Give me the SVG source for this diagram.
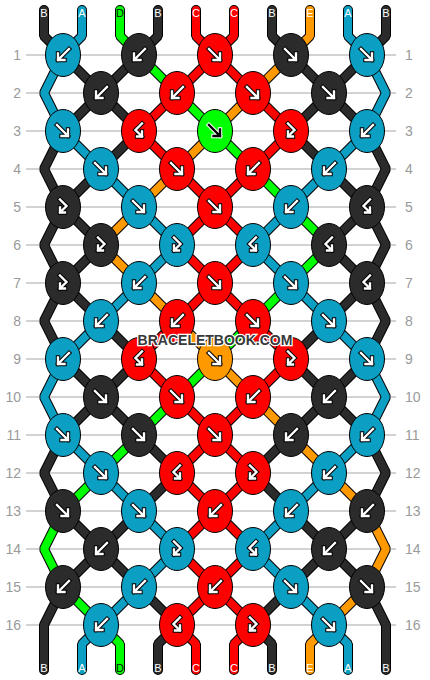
<svg xmlns="http://www.w3.org/2000/svg" xmlns:xlink="http://www.w3.org/1999/xlink" width="430" height="680" viewBox="0 0 430 680">
<style>
.grid line{stroke:#c3c3c3;stroke-width:1.6}
.rl{font-family:"Liberation Sans",Arial,sans-serif;font-size:14px;fill:#9a9a9a}
.rl.l{text-anchor:end}
.so{fill:none;stroke:#000;stroke-width:10;stroke-linejoin:bevel;stroke-linecap:round}
.sc{fill:none;stroke-width:8;stroke-linejoin:bevel;stroke-linecap:round}
.sA{stroke:#0b9fc3}.sB{stroke:#2b2b2b}.sC{stroke:#ff0000}.sD{stroke:#00ff00}.sE{stroke:#ff9900}
.k ellipse{stroke:#000;stroke-width:1}
.A{fill:#0b9fc3}.B{fill:#2b2b2b}.C{fill:#ff0000}.D{fill:#00ff00}.E{fill:#ff9900}
.ao{fill:none;stroke:#000;stroke-width:4.4;stroke-linecap:square;stroke-linejoin:miter}
.ai{fill:none;stroke:#fff;stroke-width:2.4;stroke-linecap:square;stroke-linejoin:miter}
.go{fill:none;stroke:#fff;stroke-width:4.4;stroke-linecap:square;stroke-linejoin:miter}
.gi{fill:none;stroke:#000;stroke-width:2.4;stroke-linecap:square;stroke-linejoin:miter}
.tl{font-family:"Liberation Sans",Arial,sans-serif;font-size:11px;text-anchor:middle;fill:#fff}
.tl .d{fill:#111}
.wm{font-family:"Liberation Sans",Arial,sans-serif;font-weight:bold;font-size:14px;fill:#383838;stroke:#fff;stroke-width:2.5;paint-order:stroke;text-anchor:middle}
</style>
<defs>
<path id="pf" d="M-6,-6 L5,5 M5,-1.5 V5 H-1.5"/>
<path id="pb" d="M6,-6 L-5,5 M-5,-1.5 V5 H1.5"/>
<path id="pfb" d="M-3,-7.5 L3.5,-1 L-3,5.5 M-3,0.5 V5.5 H2"/>
<path id="pbf" d="M3,-7.5 L-3.5,-1 L3,5.5 M3,0.5 V5.5 H-2"/>
<g id="af"><use href="#pf" class="ao"/><use href="#pf" class="ai"/></g>
<g id="ab"><use href="#pb" class="ao"/><use href="#pb" class="ai"/></g>
<g id="afb"><use href="#pfb" class="ao"/><use href="#pfb" class="ai"/></g>
<g id="abf"><use href="#pbf" class="ao"/><use href="#pbf" class="ai"/></g>
<g id="afg"><use href="#pf" class="go"/><use href="#pf" class="gi"/></g>
<path id="s0" d="M44,10 V36 L63,55 L101,93 L139,131 L101,169 L63,207 L101,245 L63,283 L101,321 L139,359 L101,397 L63,435 L44,473 L63,511 L101,549 L139,587 L177,625 L158,644 V670"/>
<path id="s1" d="M82,10 V36 L63,55 L44,93 L63,131 L101,169 L139,207 L177,245 L139,283 L101,321 L63,359 L44,397 L63,435 L101,473 L139,511 L177,549 L139,587 L101,625 L82,644 V670"/>
<path id="s2" d="M120,10 V36 L139,55 L177,93 L215,131 L253,169 L291,207 L329,245 L291,283 L253,321 L215,359 L177,397 L139,435 L101,473 L63,511 L44,549 L63,587 L101,625 L120,644 V670"/>
<path id="s3" d="M158,10 V36 L139,55 L101,93 L63,131 L44,169 L63,207 L44,245 L63,283 L44,321 L63,359 L101,397 L139,435 L177,473 L139,511 L101,549 L63,587 L44,625 V670"/>
<path id="s4" d="M196,10 V36 L215,55 L253,93 L291,131 L253,169 L215,207 L177,245 L215,283 L253,321 L291,359 L253,397 L215,435 L177,473 L215,511 L253,549 L215,587 L177,625 L196,644 V670"/>
<path id="s5" d="M234,10 V36 L215,55 L177,93 L139,131 L177,169 L215,207 L253,245 L215,283 L177,321 L139,359 L177,397 L215,435 L253,473 L215,511 L177,549 L215,587 L253,625 L234,644 V670"/>
<path id="s6" d="M272,10 V36 L291,55 L329,93 L367,131 L386,169 L367,207 L386,245 L367,283 L386,321 L367,359 L329,397 L291,435 L253,473 L291,511 L329,549 L367,587 L386,625 V670"/>
<path id="s7" d="M310,10 V36 L291,55 L253,93 L215,131 L177,169 L139,207 L101,245 L139,283 L177,321 L215,359 L253,397 L291,435 L329,473 L367,511 L386,549 L367,587 L329,625 L310,644 V670"/>
<path id="s8" d="M348,10 V36 L367,55 L386,93 L367,131 L329,169 L291,207 L253,245 L291,283 L329,321 L367,359 L386,397 L367,435 L329,473 L291,511 L253,549 L291,587 L329,625 L348,644 V670"/>
<path id="s9" d="M386,10 V36 L367,55 L329,93 L291,131 L329,169 L367,207 L329,245 L367,283 L329,321 L291,359 L329,397 L367,435 L386,473 L367,511 L329,549 L291,587 L253,625 L272,644 V670"/>
</defs>
<rect width="430" height="680" fill="#fff"/>
<g class="grid">
<line x1="26" y1="55" x2="396" y2="55"/><line x1="26" y1="93" x2="396" y2="93"/><line x1="26" y1="131" x2="396" y2="131"/><line x1="26" y1="169" x2="396" y2="169"/>
<line x1="26" y1="207" x2="396" y2="207"/><line x1="26" y1="245" x2="396" y2="245"/><line x1="26" y1="283" x2="396" y2="283"/><line x1="26" y1="321" x2="396" y2="321"/>
<line x1="26" y1="359" x2="396" y2="359"/><line x1="26" y1="397" x2="396" y2="397"/><line x1="26" y1="435" x2="396" y2="435"/><line x1="26" y1="473" x2="396" y2="473"/>
<line x1="26" y1="511" x2="396" y2="511"/><line x1="26" y1="549" x2="396" y2="549"/><line x1="26" y1="587" x2="396" y2="587"/><line x1="26" y1="625" x2="396" y2="625"/>
</g>
<g id="row-labels">
<text class="rl l" x="21" y="60">1</text><text class="rl" x="405" y="60">1</text>
<text class="rl l" x="21" y="98">2</text><text class="rl" x="405" y="98">2</text>
<text class="rl l" x="21" y="136">3</text><text class="rl" x="405" y="136">3</text>
<text class="rl l" x="21" y="174">4</text><text class="rl" x="405" y="174">4</text>
<text class="rl l" x="21" y="212">5</text><text class="rl" x="405" y="212">5</text>
<text class="rl l" x="21" y="250">6</text><text class="rl" x="405" y="250">6</text>
<text class="rl l" x="21" y="288">7</text><text class="rl" x="405" y="288">7</text>
<text class="rl l" x="21" y="326">8</text><text class="rl" x="405" y="326">8</text>
<text class="rl l" x="21" y="364">9</text><text class="rl" x="405" y="364">9</text>
<text class="rl l" x="21" y="402">10</text><text class="rl" x="405" y="402">10</text>
<text class="rl l" x="21" y="440">11</text><text class="rl" x="405" y="440">11</text>
<text class="rl l" x="21" y="478">12</text><text class="rl" x="405" y="478">12</text>
<text class="rl l" x="21" y="516">13</text><text class="rl" x="405" y="516">13</text>
<text class="rl l" x="21" y="554">14</text><text class="rl" x="405" y="554">14</text>
<text class="rl l" x="21" y="592">15</text><text class="rl" x="405" y="592">15</text>
<text class="rl l" x="21" y="630">16</text><text class="rl" x="405" y="630">16</text>
</g>
<g id="connectors">
<use href="#s0" class="so"/><use href="#s1" class="so"/><use href="#s2" class="so"/><use href="#s3" class="so"/><use href="#s4" class="so"/>
<use href="#s5" class="so"/><use href="#s6" class="so"/><use href="#s7" class="so"/><use href="#s8" class="so"/><use href="#s9" class="so"/>
<use href="#s0" class="sc sB"/><use href="#s1" class="sc sA"/><use href="#s2" class="sc sD"/><use href="#s3" class="sc sB"/><use href="#s4" class="sc sC"/>
<use href="#s5" class="sc sC"/><use href="#s6" class="sc sB"/><use href="#s7" class="sc sE"/><use href="#s8" class="sc sA"/><use href="#s9" class="sc sB"/>
</g>
<g id="string-labels" class="tl">
<text x="44" y="17">B</text><text x="82" y="17">A</text><text class="d" x="120" y="17">D</text><text x="158" y="17">B</text><text x="196" y="17">C</text>
<text x="234" y="17">C</text><text x="272" y="17">B</text><text x="310" y="17">E</text><text x="348" y="17">A</text><text x="386" y="17">B</text>
<text x="44" y="672">B</text><text x="82" y="672">A</text><text class="d" x="120" y="672">D</text><text x="158" y="672">B</text><text x="196" y="672">C</text>
<text x="234" y="672">C</text><text x="272" y="672">B</text><text x="310" y="672">E</text><text x="348" y="672">A</text><text x="386" y="672">B</text>
</g>
<g id="knots">
<g id="k1-1" class="k"><ellipse cx="63" cy="55" rx="17.5" ry="21.5" class="A"/><use href="#ab" x="63" y="55"/></g>
<g id="k1-2" class="k"><ellipse cx="139" cy="55" rx="17.5" ry="21.5" class="B"/><use href="#ab" x="139" y="55"/></g>
<g id="k1-3" class="k"><ellipse cx="215" cy="55" rx="17.5" ry="21.5" class="C"/><use href="#af" x="215" y="55"/></g>
<g id="k1-4" class="k"><ellipse cx="291" cy="55" rx="17.5" ry="21.5" class="B"/><use href="#af" x="291" y="55"/></g>
<g id="k1-5" class="k"><ellipse cx="367" cy="55" rx="17.5" ry="21.5" class="A"/><use href="#af" x="367" y="55"/></g>
<g id="k2-1" class="k"><ellipse cx="101" cy="93" rx="17.5" ry="21.5" class="B"/><use href="#ab" x="101" y="93"/></g>
<g id="k2-2" class="k"><ellipse cx="177" cy="93" rx="17.5" ry="21.5" class="C"/><use href="#ab" x="177" y="93"/></g>
<g id="k2-3" class="k"><ellipse cx="253" cy="93" rx="17.5" ry="21.5" class="C"/><use href="#af" x="253" y="93"/></g>
<g id="k2-4" class="k"><ellipse cx="329" cy="93" rx="17.5" ry="21.5" class="B"/><use href="#af" x="329" y="93"/></g>
<g id="k3-1" class="k"><ellipse cx="63" cy="131" rx="17.5" ry="21.5" class="A"/><use href="#af" x="63" y="131"/></g>
<g id="k3-2" class="k"><ellipse cx="139" cy="131" rx="17.5" ry="21.5" class="C"/><use href="#abf" x="139" y="131"/></g>
<g id="k3-3" class="k"><ellipse cx="215" cy="131" rx="17.5" ry="21.5" class="D"/><use href="#afg" x="215" y="131"/></g>
<g id="k3-4" class="k"><ellipse cx="291" cy="131" rx="17.5" ry="21.5" class="C"/><use href="#afb" x="291" y="131"/></g>
<g id="k3-5" class="k"><ellipse cx="367" cy="131" rx="17.5" ry="21.5" class="A"/><use href="#ab" x="367" y="131"/></g>
<g id="k4-1" class="k"><ellipse cx="101" cy="169" rx="17.5" ry="21.5" class="A"/><use href="#af" x="101" y="169"/></g>
<g id="k4-2" class="k"><ellipse cx="177" cy="169" rx="17.5" ry="21.5" class="C"/><use href="#af" x="177" y="169"/></g>
<g id="k4-3" class="k"><ellipse cx="253" cy="169" rx="17.5" ry="21.5" class="C"/><use href="#ab" x="253" y="169"/></g>
<g id="k4-4" class="k"><ellipse cx="329" cy="169" rx="17.5" ry="21.5" class="A"/><use href="#ab" x="329" y="169"/></g>
<g id="k5-1" class="k"><ellipse cx="63" cy="207" rx="17.5" ry="21.5" class="B"/><use href="#afb" x="63" y="207"/></g>
<g id="k5-2" class="k"><ellipse cx="139" cy="207" rx="17.5" ry="21.5" class="A"/><use href="#af" x="139" y="207"/></g>
<g id="k5-3" class="k"><ellipse cx="215" cy="207" rx="17.5" ry="21.5" class="C"/><use href="#af" x="215" y="207"/></g>
<g id="k5-4" class="k"><ellipse cx="291" cy="207" rx="17.5" ry="21.5" class="A"/><use href="#ab" x="291" y="207"/></g>
<g id="k5-5" class="k"><ellipse cx="367" cy="207" rx="17.5" ry="21.5" class="B"/><use href="#abf" x="367" y="207"/></g>
<g id="k6-1" class="k"><ellipse cx="101" cy="245" rx="17.5" ry="21.5" class="B"/><use href="#afb" x="101" y="245"/></g>
<g id="k6-2" class="k"><ellipse cx="177" cy="245" rx="17.5" ry="21.5" class="A"/><use href="#afb" x="177" y="245"/></g>
<g id="k6-3" class="k"><ellipse cx="253" cy="245" rx="17.5" ry="21.5" class="A"/><use href="#abf" x="253" y="245"/></g>
<g id="k6-4" class="k"><ellipse cx="329" cy="245" rx="17.5" ry="21.5" class="B"/><use href="#abf" x="329" y="245"/></g>
<g id="k7-1" class="k"><ellipse cx="63" cy="283" rx="17.5" ry="21.5" class="B"/><use href="#afb" x="63" y="283"/></g>
<g id="k7-2" class="k"><ellipse cx="139" cy="283" rx="17.5" ry="21.5" class="A"/><use href="#ab" x="139" y="283"/></g>
<g id="k7-3" class="k"><ellipse cx="215" cy="283" rx="17.5" ry="21.5" class="C"/><use href="#af" x="215" y="283"/></g>
<g id="k7-4" class="k"><ellipse cx="291" cy="283" rx="17.5" ry="21.5" class="A"/><use href="#af" x="291" y="283"/></g>
<g id="k7-5" class="k"><ellipse cx="367" cy="283" rx="17.5" ry="21.5" class="B"/><use href="#abf" x="367" y="283"/></g>
<g id="k8-1" class="k"><ellipse cx="101" cy="321" rx="17.5" ry="21.5" class="A"/><use href="#ab" x="101" y="321"/></g>
<g id="k8-2" class="k"><ellipse cx="177" cy="321" rx="17.5" ry="21.5" class="C"/><use href="#ab" x="177" y="321"/></g>
<g id="k8-3" class="k"><ellipse cx="253" cy="321" rx="17.5" ry="21.5" class="C"/><use href="#af" x="253" y="321"/></g>
<g id="k8-4" class="k"><ellipse cx="329" cy="321" rx="17.5" ry="21.5" class="A"/><use href="#af" x="329" y="321"/></g>
<g id="k9-1" class="k"><ellipse cx="63" cy="359" rx="17.5" ry="21.5" class="A"/><use href="#ab" x="63" y="359"/></g>
<g id="k9-2" class="k"><ellipse cx="139" cy="359" rx="17.5" ry="21.5" class="C"/><use href="#abf" x="139" y="359"/></g>
<g id="k9-3" class="k"><ellipse cx="215" cy="359" rx="17.5" ry="21.5" class="E"/><use href="#af" x="215" y="359"/></g>
<g id="k9-4" class="k"><ellipse cx="291" cy="359" rx="17.5" ry="21.5" class="C"/><use href="#afb" x="291" y="359"/></g>
<g id="k9-5" class="k"><ellipse cx="367" cy="359" rx="17.5" ry="21.5" class="A"/><use href="#af" x="367" y="359"/></g>
<g id="k10-1" class="k"><ellipse cx="101" cy="397" rx="17.5" ry="21.5" class="B"/><use href="#af" x="101" y="397"/></g>
<g id="k10-2" class="k"><ellipse cx="177" cy="397" rx="17.5" ry="21.5" class="C"/><use href="#af" x="177" y="397"/></g>
<g id="k10-3" class="k"><ellipse cx="253" cy="397" rx="17.5" ry="21.5" class="C"/><use href="#ab" x="253" y="397"/></g>
<g id="k10-4" class="k"><ellipse cx="329" cy="397" rx="17.5" ry="21.5" class="B"/><use href="#ab" x="329" y="397"/></g>
<g id="k11-1" class="k"><ellipse cx="63" cy="435" rx="17.5" ry="21.5" class="A"/><use href="#af" x="63" y="435"/></g>
<g id="k11-2" class="k"><ellipse cx="139" cy="435" rx="17.5" ry="21.5" class="B"/><use href="#af" x="139" y="435"/></g>
<g id="k11-3" class="k"><ellipse cx="215" cy="435" rx="17.5" ry="21.5" class="C"/><use href="#af" x="215" y="435"/></g>
<g id="k11-4" class="k"><ellipse cx="291" cy="435" rx="17.5" ry="21.5" class="B"/><use href="#ab" x="291" y="435"/></g>
<g id="k11-5" class="k"><ellipse cx="367" cy="435" rx="17.5" ry="21.5" class="A"/><use href="#ab" x="367" y="435"/></g>
<g id="k12-1" class="k"><ellipse cx="101" cy="473" rx="17.5" ry="21.5" class="A"/><use href="#af" x="101" y="473"/></g>
<g id="k12-2" class="k"><ellipse cx="177" cy="473" rx="17.5" ry="21.5" class="C"/><use href="#abf" x="177" y="473"/></g>
<g id="k12-3" class="k"><ellipse cx="253" cy="473" rx="17.5" ry="21.5" class="C"/><use href="#afb" x="253" y="473"/></g>
<g id="k12-4" class="k"><ellipse cx="329" cy="473" rx="17.5" ry="21.5" class="A"/><use href="#ab" x="329" y="473"/></g>
<g id="k13-1" class="k"><ellipse cx="63" cy="511" rx="17.5" ry="21.5" class="B"/><use href="#af" x="63" y="511"/></g>
<g id="k13-2" class="k"><ellipse cx="139" cy="511" rx="17.5" ry="21.5" class="A"/><use href="#af" x="139" y="511"/></g>
<g id="k13-3" class="k"><ellipse cx="215" cy="511" rx="17.5" ry="21.5" class="C"/><use href="#ab" x="215" y="511"/></g>
<g id="k13-4" class="k"><ellipse cx="291" cy="511" rx="17.5" ry="21.5" class="A"/><use href="#ab" x="291" y="511"/></g>
<g id="k13-5" class="k"><ellipse cx="367" cy="511" rx="17.5" ry="21.5" class="B"/><use href="#ab" x="367" y="511"/></g>
<g id="k14-1" class="k"><ellipse cx="101" cy="549" rx="17.5" ry="21.5" class="B"/><use href="#ab" x="101" y="549"/></g>
<g id="k14-2" class="k"><ellipse cx="177" cy="549" rx="17.5" ry="21.5" class="A"/><use href="#afb" x="177" y="549"/></g>
<g id="k14-3" class="k"><ellipse cx="253" cy="549" rx="17.5" ry="21.5" class="A"/><use href="#abf" x="253" y="549"/></g>
<g id="k14-4" class="k"><ellipse cx="329" cy="549" rx="17.5" ry="21.5" class="B"/><use href="#ab" x="329" y="549"/></g>
<g id="k15-1" class="k"><ellipse cx="63" cy="587" rx="17.5" ry="21.5" class="B"/><use href="#ab" x="63" y="587"/></g>
<g id="k15-2" class="k"><ellipse cx="139" cy="587" rx="17.5" ry="21.5" class="A"/><use href="#ab" x="139" y="587"/></g>
<g id="k15-3" class="k"><ellipse cx="215" cy="587" rx="17.5" ry="21.5" class="C"/><use href="#ab" x="215" y="587"/></g>
<g id="k15-4" class="k"><ellipse cx="291" cy="587" rx="17.5" ry="21.5" class="A"/><use href="#af" x="291" y="587"/></g>
<g id="k15-5" class="k"><ellipse cx="367" cy="587" rx="17.5" ry="21.5" class="B"/><use href="#af" x="367" y="587"/></g>
<g id="k16-1" class="k"><ellipse cx="101" cy="625" rx="17.5" ry="21.5" class="A"/><use href="#ab" x="101" y="625"/></g>
<g id="k16-2" class="k"><ellipse cx="177" cy="625" rx="17.5" ry="21.5" class="C"/><use href="#abf" x="177" y="625"/></g>
<g id="k16-3" class="k"><ellipse cx="253" cy="625" rx="17.5" ry="21.5" class="C"/><use href="#afb" x="253" y="625"/></g>
<g id="k16-4" class="k"><ellipse cx="329" cy="625" rx="17.5" ry="21.5" class="A"/><use href="#af" x="329" y="625"/></g>
</g>
<text class="wm" x="215" y="345">BRACELETBOOK.COM</text>
</svg>
